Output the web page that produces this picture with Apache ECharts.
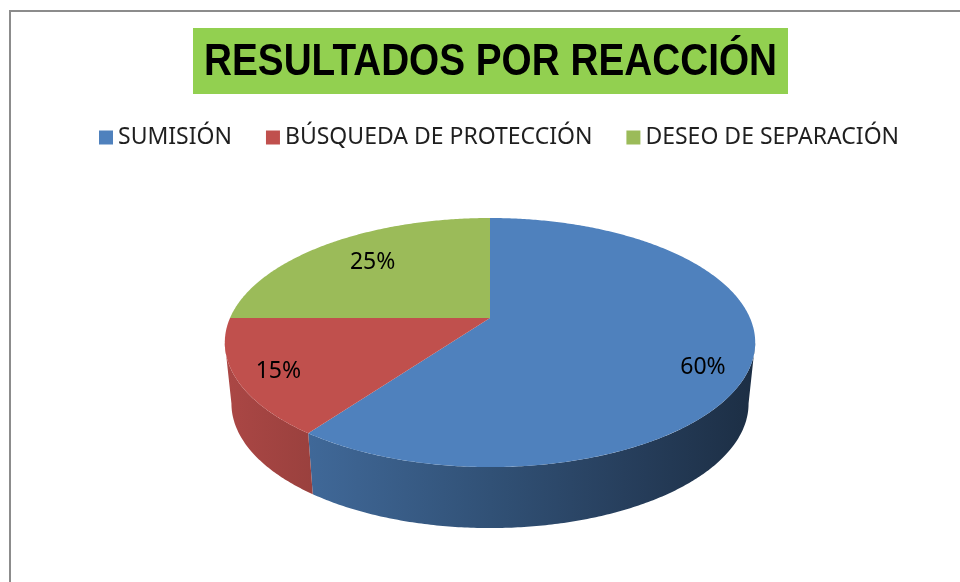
<!DOCTYPE html>
<html>
<head>
<meta charset="utf-8">
<script src="https://cdn.jsdelivr.net/npm/echarts@6/dist/echarts.min.js"></script>
<style>
  html, body { margin: 0; padding: 0; background: #ffffff; }
  #chart { width: 960px; height: 582px; }
</style>
</head>
<body>
<div id="chart"></div>
<script>
// data
const categories = ['SUMISIÓN', 'BÚSQUEDA DE PROTECCIÓN', 'DESEO DE SEPARACIÓN'];
const values = [60, 15, 25];
const titleText = 'RESULTADOS POR REACCIÓN';

// style
const colors = ['#4F81BD', '#C0504D', '#9BBB59'];
const labelNudge = [[5, 18], [-12, 7], [15, 5]];

// tilted disc geometry (Excel-like 3D pie)
const cx = 490, cy = 318, rx = 260, ry = 119.7, persp = 0.197;
const depth = 61, bottomScale = 0.975;
const frontStart = Math.acos(-persp);
const frontEnd = 2 * Math.PI - frontStart;

const total = values.reduce((s, v) => s + v, 0);
const starts = values.map((v, i) => values.slice(0, i).reduce((s, x) => s + x, 0));

function project(phi, rho) {
  const u = Math.sin(phi) * rho;
  const v = -Math.cos(phi) * rho;
  const w = 1 - persp * v;
  return [cx + rx * u / w, cy + ry * v / w];
}

function shade(hex, f) {
  const n = parseInt(hex.slice(1), 16);
  const r = Math.round(((n >> 16) & 255) * f);
  const g = Math.round(((n >> 8) & 255) * f);
  const b = Math.round((n & 255) * f);
  return 'rgb(' + r + ',' + g + ',' + b + ')';
}

function wallGradient(hex) {
  const x0 = 225, x1 = 756;
  const stops = [];
  for (let s = 0; s <= 4; s++) {
    const x = x0 + (x1 - x0) * s / 4;
    stops.push({ offset: s / 4, color: shade(hex, 0.88 - (x - 235) * 0.001) });
  }
  return { type: 'linear', x: x0, y: 0, x2: x1, y2: 0, global: true, colorStops: stops };
}

function makeRender(idx) {
  return function (params, api) {
    const start = api.value(0), val = api.value(1), sum = api.value(2);
    const a0 = start / sum * 2 * Math.PI;
    const a1 = (start + val) / sum * 2 * Math.PI;
    const children = [];

    // front wall
    const f0 = Math.max(a0, frontStart), f1 = Math.min(a1, frontEnd);
    if (f1 > f0) {
      const n = Math.max(6, Math.ceil((f1 - f0) / 0.01));
      const upper = [], lower = [];
      for (let s = 0; s <= n; s++) {
        const p = project(f0 + (f1 - f0) * s / n, 1);
        upper.push(p);
        lower.push([cx + (p[0] - cx) * bottomScale, p[1] + depth]);
      }
      children.push({
        type: 'polygon',
        shape: { points: upper.concat(lower.reverse()) },
        style: { fill: wallGradient(colors[idx]) }
      });
    }

    // top face
    const n = Math.max(6, Math.ceil((a1 - a0) / 0.01));
    const top = [[cx, cy]];
    for (let s = 0; s <= n; s++) top.push(project(a0 + (a1 - a0) * s / n, 1));
    children.push({ type: 'polygon', shape: { points: top }, style: { fill: colors[idx] } });

    // label
    const lp = project((a0 + a1) / 2, 0.8);
    children.push({
      type: 'text',
      style: {
        text: Math.round(val / sum * 100) + '%',
        x: lp[0] + labelNudge[idx][0],
        y: lp[1] + labelNudge[idx][1],
        align: 'center',
        verticalAlign: 'middle',
        fontFamily: 'Noto Sans',
        fontSize: 23,
        fill: '#000000'
      }
    });
    return { type: 'group', children: children };
  };
}

const chart = echarts.init(document.getElementById('chart'));

chart.setOption({
  backgroundColor: '#ffffff',
  animation: false,
  legend: {
    data: categories,
    left: 94,
    top: 121,
    icon: 'rect',
    itemWidth: 14,
    itemHeight: 14,
    itemGap: 34,
    textStyle: { fontFamily: 'Noto Sans', fontSize: 23, color: '#1f1f1f' }
  },
  graphic: [
    {
      type: 'rect',
      shape: { x: 10, y: 11, width: 1000, height: 620 },
      style: { fill: 'none', stroke: '#8c8c8c', lineWidth: 2 },
      silent: true
    },
    {
      type: 'rect',
      shape: { x: 193, y: 28, width: 595, height: 66 },
      style: { fill: '#92D050' },
      silent: true
    },
    {
      type: 'text',
      x: 490.5,
      y: 63,
      scaleX: 0.88,
      style: {
        text: titleText,
        align: 'center',
        verticalAlign: 'middle',
        fontFamily: 'Liberation Sans',
        fontWeight: 'bold',
        fontSize: 44,
        fill: '#000000'
      },
      silent: true
    }
  ],
  series: categories.map((name, i) => ({
    type: 'custom',
    name: name,
    coordinateSystem: 'none',
    itemStyle: { color: colors[i] },
    renderItem: makeRender(i),
    data: [[starts[i], values[i], total]]
  }))
});
</script>
</body>
</html>
